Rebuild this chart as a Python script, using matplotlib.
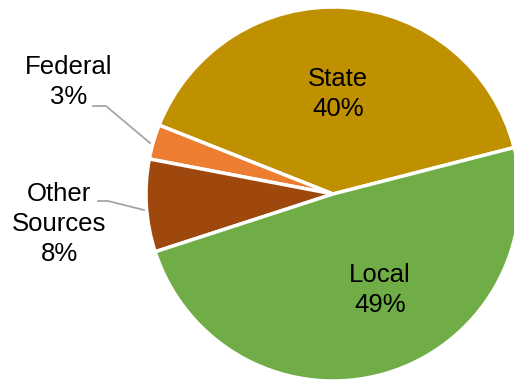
import matplotlib.pyplot as plt

# Revenue sources (share of total)
labels = ['State', 'Federal', 'Other Sources', 'Local']
shares = [40, 3, 8, 49]
colors = ['#BF9000', '#ED7D31', '#9E480E', '#70AD47']

plt.rcParams['font.family'] = ['Liberation Sans', 'DejaVu Sans']

fig = plt.figure(figsize=(5.14, 3.82), dpi=100)
ax = fig.add_axes([0, 0, 1, 1])

cx, cy, r = 333, 188, 187
ax.pie(shares, colors=colors, startangle=14.4, counterclock=True,
       center=(cx, cy), radius=r, frame=True,
       wedgeprops=dict(edgecolor='white', linewidth=2.5))
ax.set_xlim(0, 514)
ax.set_ylim(0, 382)
ax.set_aspect('equal')
ax.axis('off')

fs = 18.5
ax.text(338, 288, f'{labels[0]}\n{shares[0]}%', ha='center', va='center',
        fontsize=fs, linespacing=1.3, color='black')
ax.text(380, 92, f'{labels[3]}\n{shares[3]}%', ha='center', va='center',
        fontsize=fs, linespacing=1.3, color='black')
ax.text(69, 300, f'{labels[1]}\n{shares[1]}%', ha='center', va='center',
        fontsize=fs, linespacing=1.3, color='black')
ax.text(59, 158, 'Other\nSources\n' + f'{shares[2]}%', ha='center', va='center',
        fontsize=fs, linespacing=1.3, color='black')

# leader lines
ax.plot([93, 106, 150], [276, 276, 239], color='#A6A6A6', lw=1.3)
ax.plot([98, 108, 144], [181, 181, 172], color='#A6A6A6', lw=1.3)

fig.savefig('out.png', dpi=100)
